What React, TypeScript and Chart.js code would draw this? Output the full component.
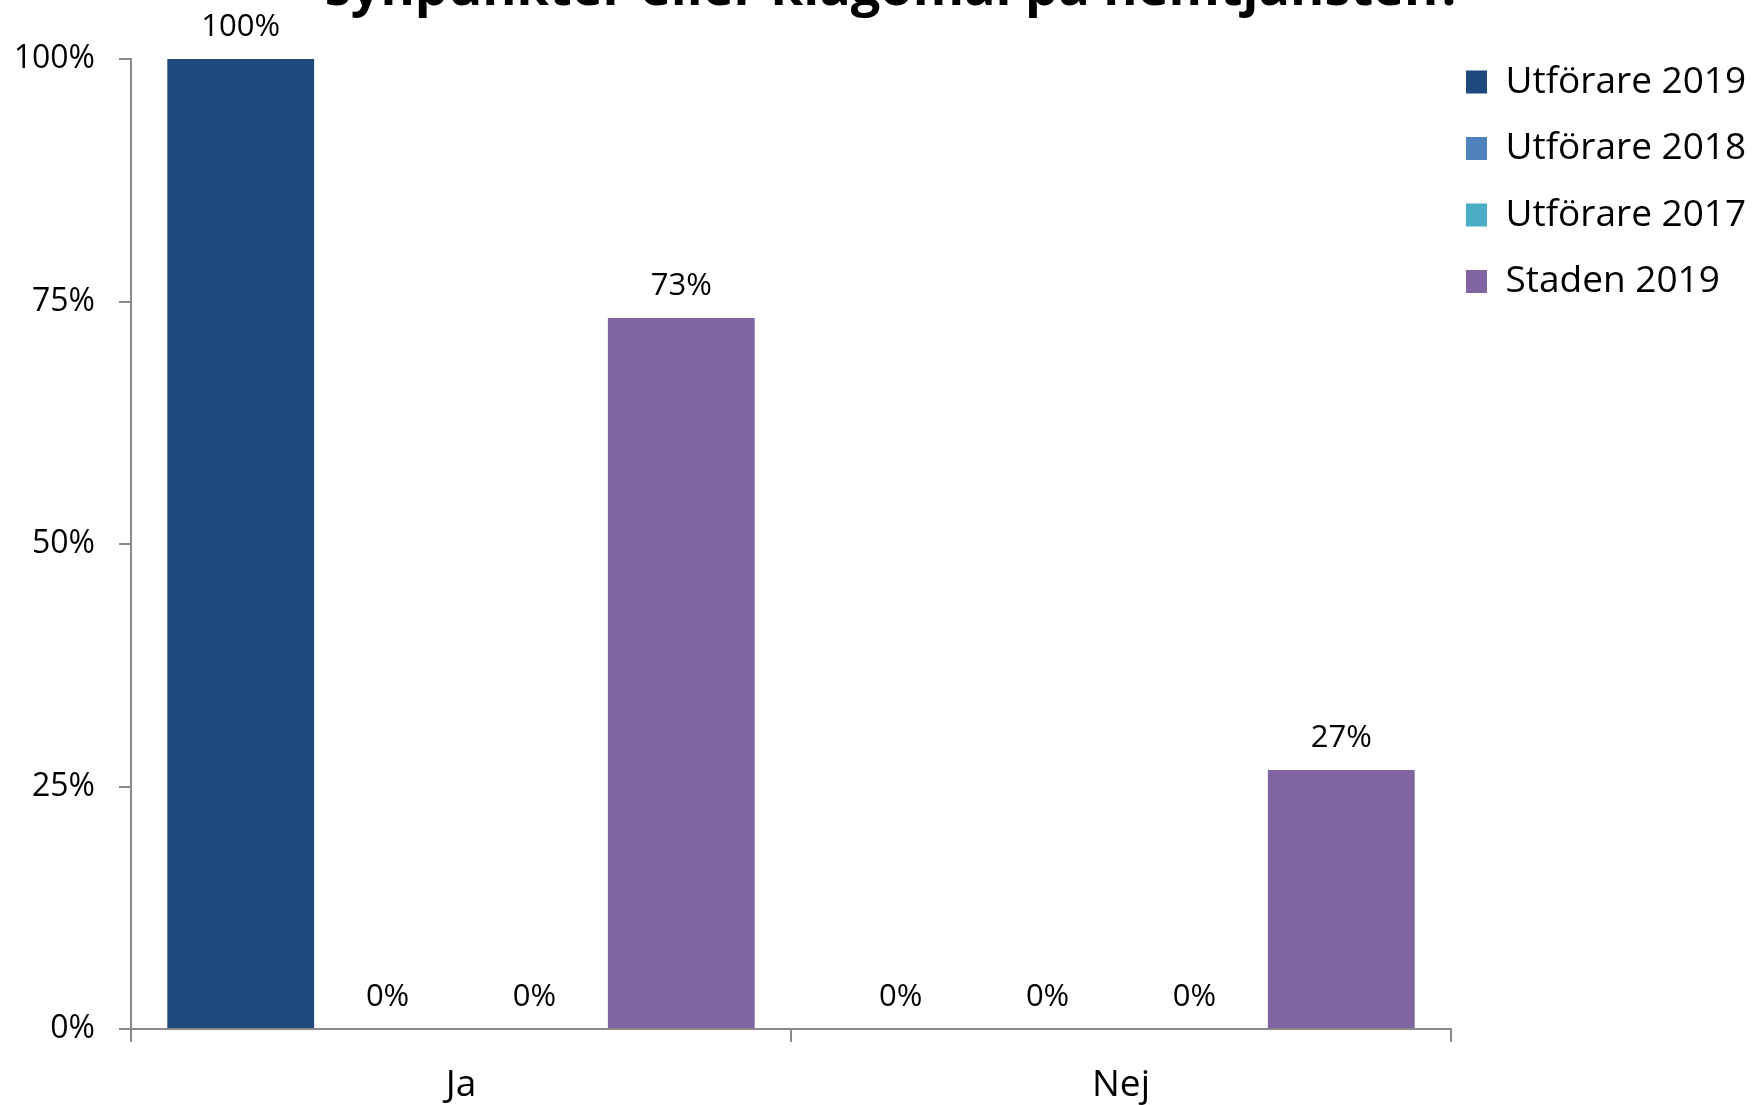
import { useEffect, useRef } from 'react';
import { Chart, registerables } from 'chart.js';

Chart.register(...registerables);

// ---- data ----
const categories = ['Ja', 'Nej'];
const seriesNames = ['Utförare 2019', 'Utförare 2018', 'Utförare 2017', 'Staden 2019'];
const utforare2019 = [1.0, 0.0];
const utforare2018 = [0.0, 0.0];
const utforare2017 = [0.0, 0.0];
const staden2019 = [0.733, 0.267];
const seriesColors = ['#1F497D', '#4F81BD', '#4BACC6', '#8064A2'];
const yTickValues = [0, 0.25, 0.5, 0.75, 1];
const titleText = 'synpunkter eller klagomål på hemtjänsten?';

const FONT = '"Open Sans", "Noto Sans", sans-serif';
const W = 1752;
const H = 1105;

const pct = (v: number) => `${Math.round(v * 100)}%`;

const dataLabelPlugin = {
  id: 'dataLabels',
  afterDatasetsDraw(chart: any) {
    const ctx = chart.ctx;
    ctx.save();
    ctx.font = `31px ${FONT}`;
    ctx.fillStyle = '#000';
    ctx.textAlign = 'center';
    ctx.textBaseline = 'alphabetic';
    chart.data.datasets.forEach((ds: any, i: number) => {
      const meta = chart.getDatasetMeta(i);
      meta.data.forEach((el: any, j: number) => {
        ctx.fillText(pct(ds.data[j]), el.x, el.y - 23);
      });
    });
    ctx.restore();
  },
};

const titlePlugin = {
  id: 'cutTitle',
  afterDraw(chart: any) {
    const ctx = chart.ctx;
    ctx.save();
    ctx.font = `bold 44px ${FONT}`;
    const w = ctx.measureText(titleText).width;
    const size = (44 * 1139) / w;
    ctx.font = `bold ${size}px ${FONT}`;
    ctx.fillStyle = '#000';
    ctx.textAlign = 'center';
    ctx.textBaseline = 'alphabetic';
    ctx.fillText(titleText, 894, 5);
    ctx.restore();
  },
};

const legendPlacePlugin = {
  id: 'legendPlace',
  beforeLayout(chart: any) {
    const lg = chart.legend;
    if (lg && !lg._patched) {
      const orig = lg.fit.bind(lg);
      lg.fit = () => {
        orig();
        lg.width = W - 1451;
      };
      lg._patched = true;
    }
  },
  afterLayout(chart: any) {
    const lg = chart.legend;
    if (lg) {
      const h = lg.height;
      lg.left = 1436.5;
      lg.right = W;
      lg.width = W - lg.left;
      lg.top = 34;
      lg.bottom = lg.top + h;
    }
  },
};

export default function App() {
  const ref = useRef<HTMLCanvasElement | null>(null);

  useEffect(() => {
    document.body.style.margin = '0';
    document.body.style.overflow = 'hidden';
    document.documentElement.style.overflow = 'hidden';
    const canvas = ref.current;
    if (!canvas) return;
    const allSeries = [utforare2019, utforare2018, utforare2017, staden2019];
    const chart = new Chart(canvas, {
      type: 'bar',
      data: {
        labels: categories,
        datasets: seriesNames.map((name, i) => ({
          label: name,
          data: allSeries[i],
          backgroundColor: seriesColors[i],
          borderWidth: 0,
          categoryPercentage: 0.89,
          barPercentage: 1.0,
        })),
      },
      options: {
        responsive: false,
        animation: false,
        devicePixelRatio: 1,
        events: [],
        layout: { padding: { top: 59, left: 0, right: 0, bottom: 0 } },
        plugins: {
          title: { display: false },
          tooltip: { enabled: false },
          legend: {
            display: true,
            position: 'right',
            align: 'start',
            labels: {
              boxWidth: 21,
              boxHeight: 23,
              padding: 29.5,
              color: '#000',
              font: { size: 37, family: FONT },
            },
          },
        },
        scales: {
          x: {
            grid: {
              display: true,
              offset: true,
              drawOnChartArea: false,
              drawTicks: true,
              tickLength: 13,
              color: '#898989',
              lineWidth: 2,
            },
            border: { display: true, color: '#898989', width: 2 },
            ticks: {
              color: '#000',
              font: { size: 37, family: FONT },
              padding: 21,
            },
            afterFit(scale: any) {
              scale.height = H - 1029;
            },
          },
          y: {
            min: 0,
            max: 1,
            afterBuildTicks(scale: any) {
              scale.ticks = yTickValues.map((v) => ({ value: v }));
            },
            grid: {
              display: true,
              drawOnChartArea: false,
              drawTicks: true,
              tickLength: 12,
              color: '#898989',
              lineWidth: 2,
            },
            border: { display: true, color: '#898989', width: 2 },
            ticks: {
              color: '#000',
              font: { size: 32, family: FONT },
              padding: 24,
              callback: (v: any) => pct(Number(v)),
            },
            afterFit(scale: any) {
              scale.width = 131;
            },
          },
        },
      },
      plugins: [dataLabelPlugin, titlePlugin, legendPlacePlugin],
    } as any);
    return () => chart.destroy();
  }, []);

  return (
    <div style={{ width: W, height: H, background: '#fff', overflow: 'hidden' }}>
      <canvas ref={ref} width={W} height={H} style={{ display: 'block' }} />
    </div>
  );
}
